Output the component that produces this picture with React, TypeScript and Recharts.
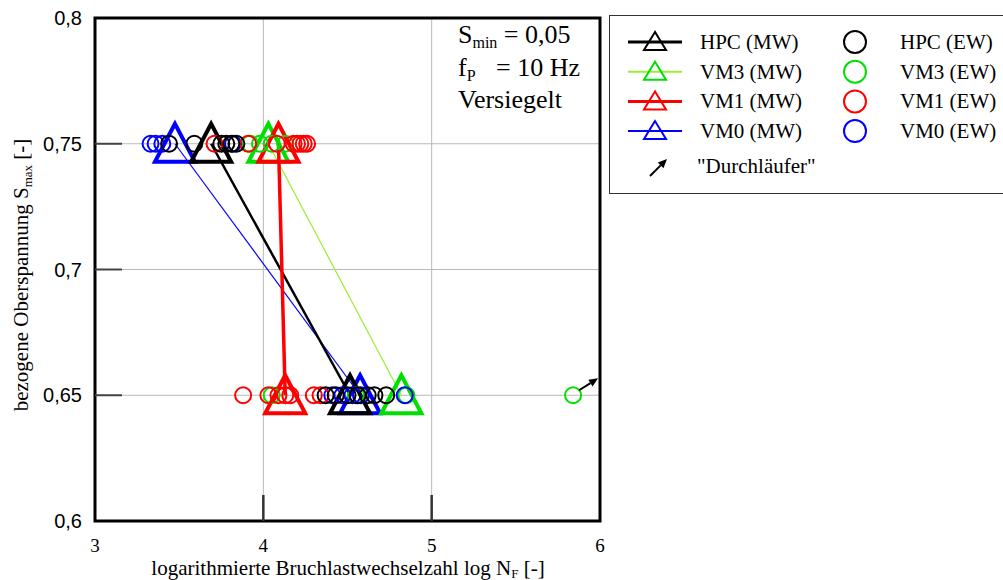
import React from 'react';
import {
  ScatterChart,
  Scatter,
  XAxis,
  YAxis,
  CartesianGrid,
  ReferenceArea
} from 'recharts';

// Mittelwerte (MW): log N bei S_max = 0,75 und 0,65
const hpcMW = [{ x: 3.69, y: 0.75 }, { x: 4.515, y: 0.65 }];
const vm3MW = [{ x: 4.03, y: 0.75 }, { x: 4.82, y: 0.65 }];
const vm1MW = [{ x: 4.09, y: 0.75 }, { x: 4.13, y: 0.65 }];
const vm0MW = [{ x: 3.475, y: 0.75 }, { x: 4.575, y: 0.65 }];

// Einzelwerte (EW)
const hpcEW075 = [3.44, 3.59, 3.75, 3.78, 3.81, 3.84];
const hpcEW065 = [4.37, 4.43, 4.5, 4.56, 4.62, 4.66, 4.73];
const vm3EW075 = [3.92, 3.98, 4.05, 4.13];
const vm3EW065 = [4.05, 4.55, 4.85, 5.84];
const vm1EW075 = [3.71, 3.91, 4.08, 4.18, 4.2, 4.22, 4.24, 4.26];
const vm1EW065 = [3.88, 4.03, 4.09, 4.13, 4.16, 4.3, 4.34];
const vm0EW075 = [3.33, 3.36, 3.4, 3.82];
const vm0EW065 = [4.41, 4.47, 4.53, 4.58, 4.84];

// Durchläufer
const runouts = [{ x: 5.84, y: 0.65 }];

const xTicks = [3, 4, 5, 6];
const yTicks = [0.6, 0.65, 0.7, 0.75, 0.8];

const toPts = (xs: number[], y: number) => xs.map((x) => ({ x, y }));
const hpcEW = [...toPts(hpcEW075, 0.75), ...toPts(hpcEW065, 0.65)];
const vm3EW = [...toPts(vm3EW075, 0.75), ...toPts(vm3EW065, 0.65)];
const vm1EW = [...toPts(vm1EW075, 0.75), ...toPts(vm1EW065, 0.65)];
const vm0EW = [...toPts(vm0EW075, 0.75), ...toPts(vm0EW065, 0.65)];

const SERIF = "'Liberation Serif', 'Times New Roman', serif";
const SANS = "'Liberation Sans', Arial, sans-serif";

const C = {
  hpc: '#000000',
  vm3: '#00e000',
  vm3Line: '#99ee33',
  vm1: '#ff0000',
  vm0: '#0000ff'
};

const legendRows = [
  { mw: 'HPC (MW)', ew: 'HPC (EW)', color: C.hpc, line: C.hpc, lw: 3 },
  { mw: 'VM3 (MW)', ew: 'VM3 (EW)', color: C.vm3, line: C.vm3Line, lw: 2 },
  { mw: 'VM1 (MW)', ew: 'VM1 (EW)', color: C.vm1, line: C.vm1, lw: 3 },
  { mw: 'VM0 (MW)', ew: 'VM0 (EW)', color: C.vm0, line: C.vm0, lw: 2 }
];

const triangle = (color: string) => (props: any) => {
  const { cx, cy } = props;
  return (
    <polygon
      points={`${cx},${cy - 20} ${cx - 20},${cy + 18} ${cx + 20},${cy + 18}`}
      fill="none"
      stroke={color}
      strokeWidth={4}
      strokeLinejoin="miter"
    />
  );
};

const ring = (color: string) => (props: any) => {
  const { cx, cy } = props;
  return <circle cx={cx} cy={cy} r={8} fill="none" stroke={color} strokeWidth={2} />;
};

const Arrow = ({ x0, y0, x1, y1 }: { x0: number; y0: number; x1: number; y1: number }) => {
  const a = Math.atan2(y1 - y0, x1 - x0);
  const L = 9;
  const W = 4;
  const bx = x1 - L * Math.cos(a);
  const by = y1 - L * Math.sin(a);
  const px = -Math.sin(a) * W;
  const py = Math.cos(a) * W;
  return (
    <g>
      <line x1={x0} y1={y0} x2={bx} y2={by} stroke="#000" strokeWidth={2} />
      <polygon points={`${x1},${y1} ${bx + px},${by + py} ${bx - px},${by - py}`} fill="#000" />
    </g>
  );
};

const runoutShape = (props: any) => {
  const { cx, cy } = props;
  return <Arrow x0={cx + 6} y0={cy - 5} x1={cx + 25} y1={cy - 17} />;
};

const YTick = (props: any) => {
  const { x, y, payload } = props;
  const v = payload.value;
  const inner = v > 0.6 && v < 0.8;
  return (
    <g>
      <text x={x} y={y} dy="0.36em" textAnchor="end" style={{ fontFamily: SANS, fontSize: 20 }} fill="#000">
        {String(v).replace('.', ',')}
      </text>
      {inner && <line x1={x + 13} x2={x + 40} y1={y} y2={y} stroke="#444" strokeWidth={2} />}
    </g>
  );
};

const XTick = (props: any) => {
  const { x, y, payload } = props;
  const v = payload.value;
  const inner = v > 3 && v < 6;
  return (
    <g>
      <text x={x} y={y} dy="0.71em" textAnchor="middle" style={{ fontFamily: SERIF, fontSize: 19 }} fill="#000">
        {v}
      </text>
      {inner && <line x1={x} x2={x} y1={y - 18} y2={y - 44} stroke="#333" strokeWidth={2.5} />}
    </g>
  );
};

function Overlay() {
  return (
    <svg
      width={1003}
      height={580}
      style={{ position: 'absolute', left: 0, top: 0, pointerEvents: 'none', fontFamily: SERIF }}
    >
      {/* Achsentitel */}
      <text x={348} y={575} textAnchor="middle" fontSize={21} fill="#000">
        logarithmierte Bruchlastwechselzahl log N
        <tspan fontSize={13} dy={3}>F</tspan>
        <tspan dy={-3}> [-]</tspan>
      </text>
      <text x={28} y={275} transform="rotate(-90, 28, 275)" textAnchor="middle" fontSize={21} fill="#000">
        bezogene Oberspannung S
        <tspan fontSize={13} dy={4}>max</tspan>
        <tspan dy={-4}> [-]</tspan>
      </text>

      {/* Versuchsbedingungen */}
      <g fontSize={26} fill="#000">
        <text x={458} y={43}>
          S<tspan fontSize={16} dy={5}>min</tspan>
          <tspan dy={-5}> = 0,05</tspan>
        </text>
        <text x={458} y={76}>
          f<tspan fontSize={16} dy={5}>P</tspan>
          <tspan dy={-5} x={496}>= 10 Hz</tspan>
        </text>
        <text x={458} y={108}>Versiegelt</text>
      </g>

      {/* Legende */}
      <rect x={609.5} y={15.5} width={400} height={178} fill="#fff" stroke="#333" strokeWidth={1} />
      {legendRows.map((r, i) => {
        const cy = 42 + i * 29.7;
        return (
          <g key={r.mw}>
            <line x1={628} x2={682} y1={cy} y2={cy} stroke={r.line} strokeWidth={r.lw} />
            <polygon
              points={`655,${cy - 10} 644,${cy + 8} 666,${cy + 8}`}
              fill="none"
              stroke={r.color}
              strokeWidth={2}
            />
            <text x={700} y={cy + 7} fontSize={21} fill="#000">
              {r.mw}
            </text>
            <circle cx={855} cy={cy} r={11} fill="none" stroke={r.color} strokeWidth={2} />
            <text x={900} y={cy + 7} fontSize={21} fill="#000">
              {r.ew}
            </text>
          </g>
        );
      })}
      <Arrow x0={650} y0={176} x1={667} y1={159} />
      <text x={697} y={173} fontSize={21} fill="#000">
        "Durchläufer"
      </text>
    </svg>
  );
}

export default function App() {
  return (
    <div style={{ position: 'absolute', left: 0, top: 0, width: 1003, height: 580, background: '#fff' }}>
      <ScatterChart width={1003} height={580} margin={{ top: 18, right: 403, bottom: 0, left: 0 }}>
        <CartesianGrid stroke="#b8b8b8" strokeWidth={1} />
        <XAxis
          type="number"
          dataKey="x"
          domain={[3, 6]}
          ticks={xTicks}
          height={59}
          axisLine={false}
          tickLine={false}
          tickSize={0}
          tickMargin={18}
          tick={<XTick />}
          allowDataOverflow
        />
        <YAxis
          type="number"
          dataKey="y"
          domain={[0.6, 0.8]}
          ticks={yTicks}
          width={95}
          axisLine={false}
          tickLine={false}
          tickSize={0}
          tickMargin={13}
          tick={<YTick />}
          allowDataOverflow
        />
        <Scatter data={vm0MW} line={{ stroke: C.vm0, strokeWidth: 1.2 }} shape={triangle(C.vm0)} isAnimationActive={false} />
        <Scatter data={vm3MW} line={{ stroke: C.vm3Line, strokeWidth: 1.2 }} shape={triangle(C.vm3)} isAnimationActive={false} />
        <Scatter data={hpcMW} line={{ stroke: C.hpc, strokeWidth: 2.5 }} shape={triangle(C.hpc)} isAnimationActive={false} />
        <Scatter data={vm1MW} line={{ stroke: C.vm1, strokeWidth: 3.5 }} shape={triangle(C.vm1)} isAnimationActive={false} />
        <Scatter data={vm3EW} shape={ring(C.vm3)} isAnimationActive={false} />
        <Scatter data={vm0EW} shape={ring(C.vm0)} isAnimationActive={false} />
        <Scatter data={vm1EW} shape={ring(C.vm1)} isAnimationActive={false} />
        <Scatter data={hpcEW} shape={ring(C.hpc)} isAnimationActive={false} />
        <Scatter data={runouts} shape={runoutShape} isAnimationActive={false} />
        <ReferenceArea x1={3} x2={6} y1={0.6} y2={0.8} fill="none" stroke="#000" strokeWidth={3} />
      </ScatterChart>
      <Overlay />
    </div>
  );
}
